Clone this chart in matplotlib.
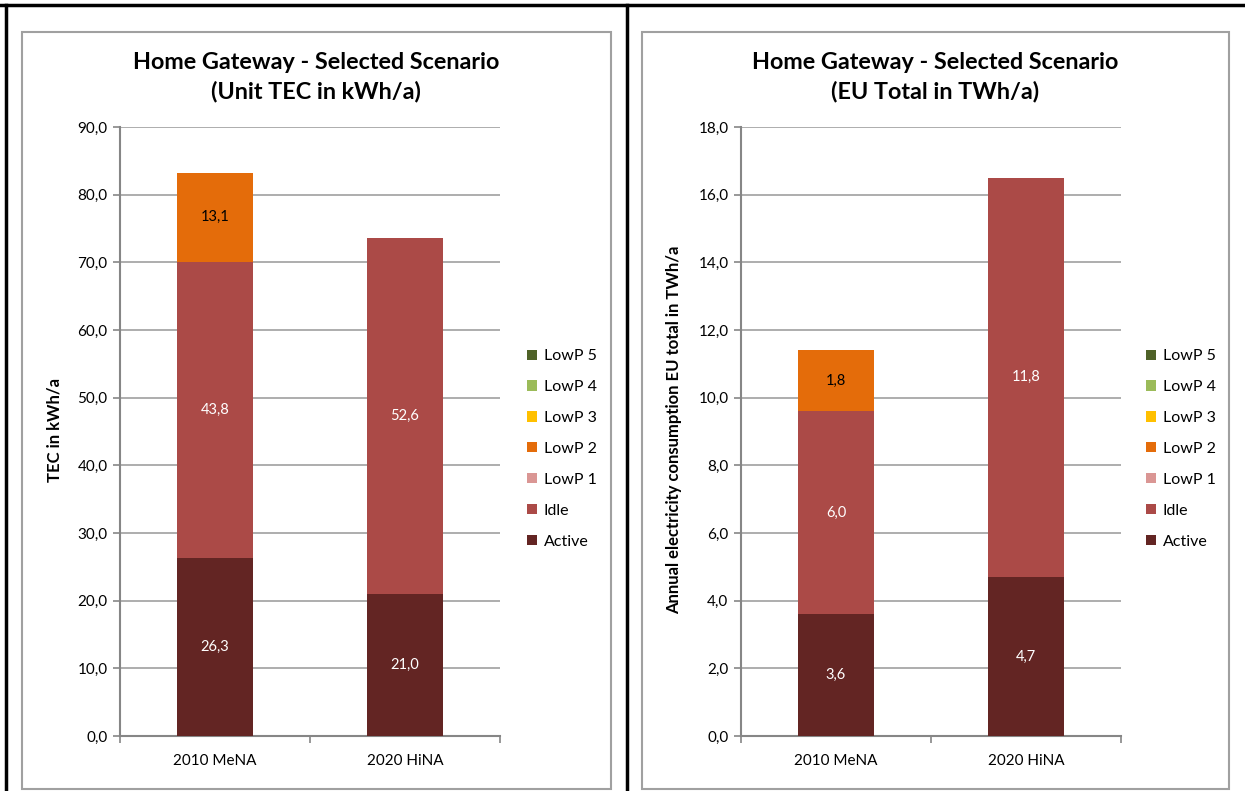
import matplotlib
matplotlib.use("Agg")
import matplotlib.pyplot as plt
from matplotlib.patches import Rectangle, Patch
from matplotlib.lines import Line2D
from matplotlib.ticker import FuncFormatter, MultipleLocator, FixedLocator

plt.rcParams['font.family'] = ['Lato', 'DejaVu Sans']

categories = ["2010 MeNA", "2020 HiNA"]
series_names = ["Active", "Idle", "LowP 1", "LowP 2", "LowP 3", "LowP 4", "LowP 5"]
series_colors = ["#632523", "#AB4A47", "#DA9694", "#E46C0A", "#FFC000", "#9BBB59", "#4F6228"]
label_colors = ["white", "white", "black", "black", "black", "black", "black"]

# Unit TEC in kWh/a
unit_active = [26.3, 21.0]
unit_idle = [43.8, 52.6]
unit_lowp1 = [0.0, 0.0]
unit_lowp2 = [13.1, 0.0]
unit_lowp3 = [0.0, 0.0]
unit_lowp4 = [0.0, 0.0]
unit_lowp5 = [0.0, 0.0]

# EU total in TWh/a
eu_active = [3.6, 4.7]
eu_idle = [6.0, 11.8]
eu_lowp1 = [0.0, 0.0]
eu_lowp2 = [1.8, 0.0]
eu_lowp3 = [0.0, 0.0]
eu_lowp4 = [0.0, 0.0]
eu_lowp5 = [0.0, 0.0]

W, H = 1245, 791
fig = plt.figure(figsize=(W / 100, H / 100), dpi=100)

def fx(px):
    return px / W

def fy(py):
    return 1 - py / H

# outer frame lines
fig.add_artist(Line2D([0, 1], [fy(5), fy(5)], color="black", lw=2.5, transform=fig.transFigure))
fig.add_artist(Line2D([fx(6), fx(6)], [fy(5), 0], color="black", lw=2.5, transform=fig.transFigure))
fig.add_artist(Line2D([fx(627), fx(627)], [fy(5), 0], color="black", lw=2.5, transform=fig.transFigure))

# chart area boxes
for x0, x1 in [(22, 611), (642, 1229)]:
    fig.add_artist(Rectangle((fx(x0), fy(789)), fx(x1 - x0), (789 - 32) / H,
                             fill=False, edgecolor="#A0A0A0", lw=1.5, transform=fig.transFigure))

def comma_fmt(v, pos):
    return f"{v:.1f}".replace(".", ",")

def draw_panel(left_px, series, ymax, ystep, title, ylabel, ylabel_x, title_x, legend_x):
    ax = fig.add_axes([fx(left_px), fy(736), fx(380), 609 / H])
    x = range(len(categories))
    bottoms = [0.0] * len(categories)
    for vals, name, col, lc in zip(series, series_names, series_colors, label_colors):
        ax.bar(x, vals, bottom=bottoms, width=0.4, color=col, zorder=3, label=name)
        for i, v in enumerate(vals):
            if v > 0:
                ax.text(i, bottoms[i] + v / 2, f"{v:.1f}".replace(".", ","),
                        ha="center", va="center", color=lc, fontsize=10.5, zorder=4)
        bottoms = [b + v for b, v in zip(bottoms, vals)]
    ax.set_xlim(-0.5, len(categories) - 0.5)
    ax.set_ylim(0, ymax)
    ax.yaxis.set_major_locator(MultipleLocator(ystep))
    ax.yaxis.set_major_formatter(FuncFormatter(comma_fmt))
    ax.grid(axis="y", color="#A0A0A0", lw=1.2, zorder=0)
    for s in ["top", "right"]:
        ax.spines[s].set_visible(False)
    for s in ["left", "bottom"]:
        ax.spines[s].set_color("#868686")
        ax.spines[s].set_linewidth(1.5)
    ax.set_xticks(list(x))
    ax.set_xticklabels(categories, fontsize=11)
    ax.xaxis.set_minor_locator(FixedLocator([-0.5, 0.5, 1.5]))
    ax.tick_params(axis="x", which="major", length=0, pad=13)
    ax.tick_params(axis="x", which="minor", length=5, color="#868686", width=1.2)
    ax.tick_params(axis="y", length=5, color="#868686", width=1.2, labelsize=11, pad=4)
    fig.text(fx(title_x), fy(77), title, ha="center", va="center",
             fontsize=16.8, fontweight="bold", linespacing=1.4)
    fig.text(fx(ylabel_x), fy(430), ylabel, rotation=90, ha="center", va="center",
             fontsize=12, fontweight="bold")
    handles = [Patch(facecolor=c, edgecolor="none") for c in series_colors][::-1]
    fig.legend(handles, series_names[::-1], loc="center left",
               bbox_to_anchor=(fx(legend_x), fy(449)), frameon=False,
               fontsize=11.5, handlelength=0.6, handleheight=0.6,
               handletextpad=0.45, labelspacing=1.06, borderpad=0, borderaxespad=0)
    return ax

draw_panel(120,
           [unit_active, unit_idle, unit_lowp1, unit_lowp2, unit_lowp3, unit_lowp4, unit_lowp5],
           90, 10,
           "Home Gateway - Selected Scenario\n(Unit TEC in kWh/a)",
           "TEC in kWh/a", 55, 316, 527)

draw_panel(741,
           [eu_active, eu_idle, eu_lowp1, eu_lowp2, eu_lowp3, eu_lowp4, eu_lowp5],
           18, 2,
           "Home Gateway - Selected Scenario\n(EU Total in TWh/a)",
           "Annual electricity consumption EU total in TWh/a", 674, 935, 1146)

fig.savefig("out.png", dpi=100)
